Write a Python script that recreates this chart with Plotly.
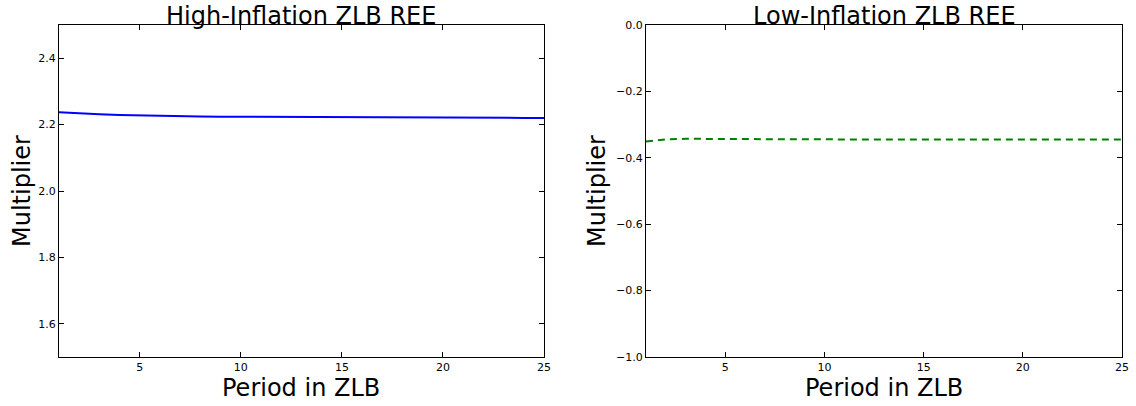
import plotly.graph_objects as go

# Fiscal multiplier by number of periods spent at the zero lower bound
periods = list(range(1, 26))
high_inflation = [2.2370, 2.2335, 2.2308, 2.2288, 2.2272, 2.2260, 2.2252, 2.2245,
                  2.2240, 2.2236, 2.2232, 2.2228, 2.2225, 2.2222, 2.2219, 2.2216,
                  2.2213, 2.2211, 2.2209, 2.2207, 2.2205, 2.2203, 2.2202, 2.2201,
                  2.2200]
low_inflation = [-0.3510, -0.3445, -0.3428, -0.3427, -0.3431, -0.3435, -0.3438,
                 -0.3441, -0.3443, -0.3445, -0.3446, -0.3447, -0.3448, -0.3448,
                 -0.3449, -0.3449, -0.3449, -0.3450, -0.3450, -0.3450, -0.3450,
                 -0.3450, -0.3450, -0.3450, -0.3450]

titles = ["High-Inflation ZLB REE", "Low-Inflation ZLB REE"]
x_ticks = [5, 10, 15, 20, 25]
left_y_ticks = [1.6, 1.8, 2.0, 2.2, 2.4]
right_y_ticks = [-1.0, -0.8, -0.6, -0.4, -0.2, 0.0]

W, H = 1136, 406
FONT = "DejaVu Sans"
BIG = 24

fig = go.Figure()
fig.add_trace(go.Scatter(x=periods, y=high_inflation, mode="lines",
                         line=dict(color="#0000ff", width=2),
                         xaxis="x", yaxis="y", showlegend=False))
fig.add_trace(go.Scatter(x=periods, y=low_inflation, mode="lines",
                         line=dict(color="#008000", width=2, dash="7px,5px"),
                         xaxis="x2", yaxis="y2", showlegend=False))

ydom = [1 - 357 / H, 1 - 25 / H]
dom_left = [59 / W, 544 / W]
dom_right = [646 / W, 1122 / W]

axis_common = dict(showline=True, linecolor="black", linewidth=1, mirror="ticks",
                   ticks="inside", ticklen=5, tickwidth=1, tickcolor="black",
                   showgrid=False, zeroline=False, automargin=False,
                   tickfont=dict(family=FONT, size=11, color="black"))

fig.update_layout(
    width=W, height=H,
    margin=dict(l=0, r=0, t=0, b=0, pad=0),
    paper_bgcolor="white", plot_bgcolor="white",
    xaxis=dict(domain=dom_left, range=[1, 25], tickvals=x_ticks, anchor="y", **axis_common),
    yaxis=dict(domain=ydom, range=[1.5, 2.5], tickvals=left_y_ticks, tickformat=".1f",
               anchor="x", **axis_common),
    xaxis2=dict(domain=dom_right, range=[1, 25], tickvals=x_ticks, anchor="y2", **axis_common),
    yaxis2=dict(domain=ydom, range=[-1.0, 0.0], tickvals=right_y_ticks, tickformat=".1f",
                anchor="x2", **axis_common),
)

annotations = []
for dom, title in zip([dom_left, dom_right], titles):
    cx = (dom[0] + dom[1]) / 2
    annotations.append(dict(text=title, x=cx, y=ydom[1], xref="paper", yref="paper",
                            xanchor="center", yanchor="bottom", yshift=-6, showarrow=False,
                            borderpad=0,
                            font=dict(family=FONT, size=BIG, color="black")))
    annotations.append(dict(text="Period in ZLB", x=cx, y=ydom[0], xref="paper", yref="paper",
                            xanchor="center", yanchor="top", yshift=-16, showarrow=False,
                            borderpad=0,
                            font=dict(family=FONT, size=BIG, color="black")))
for xpos in [22 / W, 597 / W]:
    annotations.append(dict(text="Multiplier", x=xpos, y=(ydom[0] + ydom[1]) / 2,
                            xref="paper", yref="paper", xanchor="center", yanchor="middle",
                            textangle=-90, showarrow=False,
                            font=dict(family=FONT, size=BIG, color="black")))
fig.update_layout(annotations=annotations)

fig.write_html("out.html")
